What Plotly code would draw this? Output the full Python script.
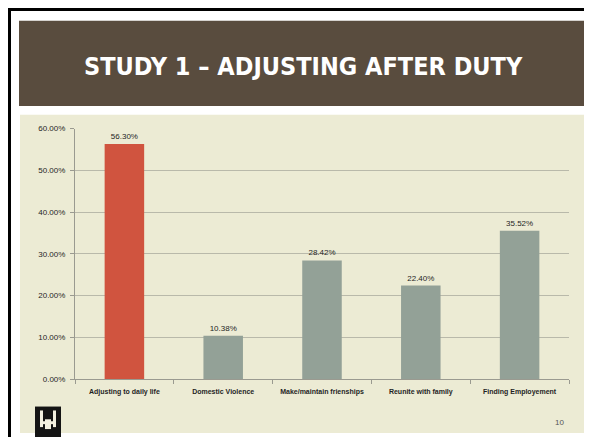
import plotly.graph_objects as go

# ── Data ──────────────────────────────────────────────────────────────────────
categories = [
    "Adjusting to daily life",
    "Domestic Violence",
    "Make/maintain frienships",
    "Reunite with family",
    "Finding Employement",
]
values = [0.5630, 0.1038, 0.2842, 0.2240, 0.3552]
bar_colors = ["#D0543F", "#93A197", "#93A197", "#93A197", "#93A197"]
y_ticks = [0, 0.1, 0.2, 0.3, 0.4, 0.5, 0.6]

# page body keeps its default 8px margin, so the figure is drawn 8px in
OFF = 8
W, H = 592 - OFF, 445 - 2 * OFF
BEIGE = "#ECEBD4"
BROWN = "#594C3E"
GRID = "#B9B9AA"
TXT = "#1f1f1f"


def px_x(x):
    return (x - OFF) / W


def px_y(y):
    return 1 - (y - OFF) / H


fig = go.Figure()
fig.add_trace(go.Bar(
    x=categories,
    y=values,
    marker=dict(color=bar_colors, line=dict(width=0)),
    text=[f"{v:.2%}" for v in values],
    textposition="outside",
    textfont=dict(family="Liberation Sans, Arial, sans-serif", size=8, color=TXT),
    cliponaxis=False,
    hoverinfo="skip",
))

cream = "#F3F0E0"
shapes = [
    # slide frame
    dict(type="rect", xref="paper", yref="paper", x0=px_x(9.5), x1=px_x(640),
         y0=px_y(500), y1=px_y(5.5), line=dict(color="black", width=3),
         fillcolor="white", layer="below"),
    # header band
    dict(type="rect", xref="paper", yref="paper", x0=px_x(19), x1=px_x(640),
         y0=px_y(104), y1=px_y(17), line=dict(width=0), fillcolor=BROWN, layer="below"),
    # content panel
    dict(type="rect", xref="paper", yref="paper", x0=px_x(20), x1=px_x(640),
         y0=px_y(438), y1=px_y(113), line=dict(width=0), fillcolor=BEIGE, layer="below"),
    # logo
    dict(type="rect", xref="paper", yref="paper", x0=px_x(35), x1=px_x(61),
         y0=px_y(444), y1=px_y(411), line=dict(width=0), fillcolor="#141414", layer="above"),
    dict(type="rect", xref="paper", yref="paper", x0=px_x(40), x1=px_x(43),
         y0=px_y(432), y1=px_y(415), line=dict(width=0), fillcolor=cream, layer="above"),
    dict(type="rect", xref="paper", yref="paper", x0=px_x(53), x1=px_x(56),
         y0=px_y(432), y1=px_y(415), line=dict(width=0), fillcolor=cream, layer="above"),
    dict(type="rect", xref="paper", yref="paper", x0=px_x(40), x1=px_x(56),
         y0=px_y(429), y1=px_y(426), line=dict(width=0), fillcolor=cream, layer="above"),
    dict(type="rect", xref="paper", yref="paper", x0=px_x(45), x1=px_x(51),
         y0=px_y(434), y1=px_y(424), line=dict(width=0), fillcolor=cream, layer="above"),
]

annotations = [
    dict(text="STUDY 1 – ADJUSTING AFTER DUTY", xref="paper", yref="paper",
         x=px_x(303), y=px_y(64), showarrow=False, xanchor="center", yanchor="middle",
         font=dict(family="DejaVu Sans Condensed, Liberation Sans Narrow, Arial Narrow, sans-serif",
                   size=25, color="white", weight="bold")),
    dict(text="10", xref="paper", yref="paper", x=px_x(566), y=px_y(427),
         showarrow=False, xanchor="right", yanchor="middle",
         font=dict(family="Liberation Sans, Arial, sans-serif", size=8, color="#555555")),
]

fig.update_layout(
    width=W, height=H,
    margin=dict(l=0, r=0, t=0, b=0),
    paper_bgcolor="white",
    plot_bgcolor="rgba(0,0,0,0)",
    showlegend=False,
    bargap=0.6,
    shapes=shapes,
    annotations=annotations,
    xaxis=dict(
        domain=[px_x(75), px_x(569)],
        showline=True, linecolor="#9A9A90", linewidth=1,
        ticks="outside", tickson="boundaries", ticklen=4, tickcolor="#9A9A90",
        showgrid=False, tickangle=0, ticklabelstandoff=5,
        tickfont=dict(family="Liberation Sans Narrow, Arial Narrow, Liberation Sans, sans-serif",
                      size=7, color=TXT, weight="bold"),
        fixedrange=True,
    ),
    yaxis=dict(
        domain=[px_y(383), px_y(127)],
        range=[0, 0.6],
        tickvals=y_ticks,
        tickformat=".2%",
        showline=True, linecolor="#9A9A90", linewidth=1,
        ticks="outside", ticklen=4, tickcolor="#9A9A90",
        ticklabelstandoff=3,
        showgrid=True, gridcolor=GRID, gridwidth=1,
        zeroline=False,
        tickfont=dict(family="Liberation Sans, Arial, sans-serif", size=8, color=TXT),
        fixedrange=True,
    ),
)

fig.write_html("out.html")
